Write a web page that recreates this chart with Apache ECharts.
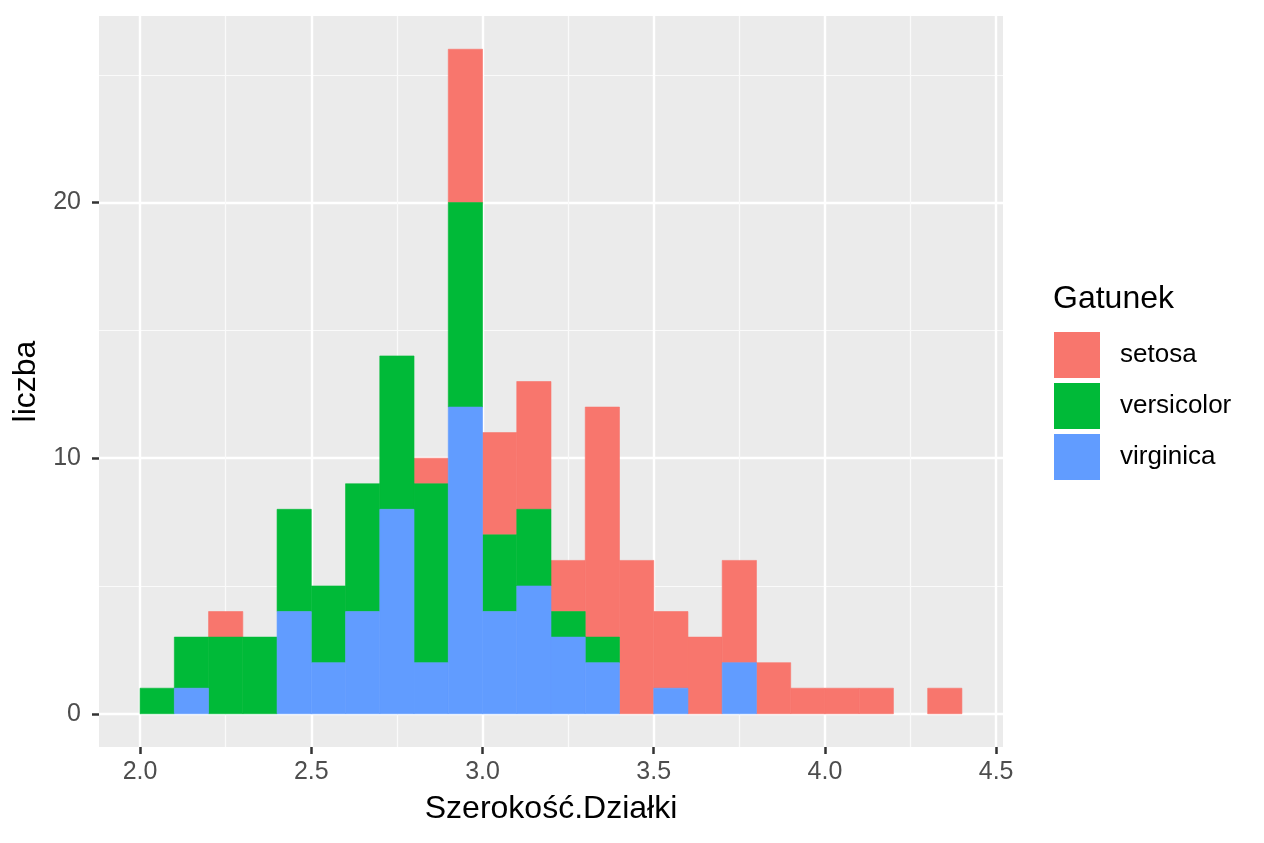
<!DOCTYPE html>
<html>
<head>
<meta charset="utf-8">
<script src="https://cdn.jsdelivr.net/npm/echarts@6/dist/echarts.min.js"></script>
<style>
  html, body { margin: 0; padding: 0; background: #fff; }
  #chart { width: 1264px; height: 843px; }
</style>
</head>
<body>
<div id="chart"></div>
<script>
// lewe krawędzie przedziałów (szerokość 0.1)
const binStarts = [2.0, 2.1, 2.2, 2.3, 2.4, 2.5, 2.6, 2.7, 2.8, 2.9, 3.0, 3.1,
  3.2, 3.3, 3.4, 3.5, 3.6, 3.7, 3.8, 3.9, 4.0, 4.1, 4.2, 4.3];
const binWidth = 0.1;

// liczebności dla każdego gatunku
const virginica  = [0, 1, 0, 0, 4, 2, 4, 8, 2, 12, 4, 5, 3, 2, 0, 1, 0, 2, 0, 0, 0, 0, 0, 0];
const versicolor = [1, 2, 3, 3, 4, 3, 5, 6, 7, 8, 3, 3, 1, 1, 0, 0, 0, 0, 0, 0, 0, 0, 0, 0];
const setosa     = [0, 0, 1, 0, 0, 0, 0, 0, 1, 6, 4, 5, 2, 9, 6, 3, 3, 4, 2, 1, 1, 1, 0, 1];

const xTicks = [2.0, 2.5, 3.0, 3.5, 4.0, 4.5];
const xMinor = [2.25, 2.75, 3.25, 3.75, 4.25];
const yTicks = [0, 10, 20];
const yMinor = [5, 15, 25];

const colors = { setosa: "#F8766D", versicolor: "#00BA38", virginica: "#619CFF" };

// stos: virginica na dole, potem versicolor, setosa na górze
const stackOrder = [
  { name: "virginica", values: virginica },
  { name: "versicolor", values: versicolor },
  { name: "setosa", values: setosa },
];

const base = binStarts.map(() => 0);
const stacked = {};
stackOrder.forEach((s) => {
  stacked[s.name] = binStarts
    .map((x, i) => {
      const item = [x, base[i], base[i] + s.values[i]];
      base[i] += s.values[i];
      return item;
    })
    .filter((d) => d[2] > d[1]);
});

const renderBin = (params, api) => {
  const x0 = api.value(0);
  const y0 = api.value(1);
  const y1 = api.value(2);
  const p1 = api.coord([x0, y1]);
  const p2 = api.coord([x0 + binWidth, y0]);
  const color = api.visual("color");
  return {
    type: "rect",
    shape: { x: p1[0], y: p1[1], width: p2[0] - p1[0], height: p2[1] - p1[1] },
    style: { fill: color, stroke: color, lineWidth: 0.6 },
  };
};

const makeSeries = (name) => ({
  name,
  type: "custom",
  renderItem: renderBin,
  itemStyle: { color: colors[name] },
  encode: { x: 0, y: [1, 2] },
  data: stacked[name],
  z: 5,
});

const font = "Liberation Sans, Arial, sans-serif";
const xMin = 1.88, xMax = 4.52, yMin = -1.3, yMax = 27.3;

const chart = echarts.init(document.getElementById("chart"));

const option = {
  animation: false,
  textStyle: { fontFamily: font },
  grid: {
    left: 99, top: 16, right: 261, bottom: 96,
    show: true, backgroundColor: "#EBEBEB", borderWidth: 0,
  },
  legend: {
    orient: "vertical",
    left: 1049, top: 327,
    data: ["setosa", "versicolor", "virginica"],
    icon: "rect",
    itemWidth: 46, itemHeight: 46, itemGap: 5,
    textStyle: { fontSize: 26, color: "#000", fontFamily: font, padding: [0, 0, 0, 15] },
    selectedMode: false,
  },
  graphic: [
    {
      type: "text", left: 1053, top: 283,
      style: { text: "Gatunek", fontSize: 32, fill: "#000", fontFamily: font },
    },
  ],
  xAxis: [
    {
      type: "value", min: xMin, max: xMax,
      name: "Szerokość.Działki", nameLocation: "middle", nameGap: 46,
      nameTextStyle: { fontSize: 32, color: "#000", fontFamily: font },
      axisLine: { show: false, onZero: false },
      axisTick: { show: true, length: 7, customValues: xTicks, lineStyle: { color: "#333", width: 2.5 } },
      axisLabel: {
        customValues: xTicks, fontSize: 25, color: "#4D4D4D", margin: 13,
        formatter: (v) => v.toFixed(1),
      },
      splitLine: { show: true, lineStyle: { color: "#FFFFFF", width: 2.4 } },
    },
    {
      type: "value", min: xMin, max: xMax, position: "top",
      axisLine: { show: false, onZero: false },
      axisTick: { show: false, customValues: xMinor },
      axisLabel: { show: false, customValues: xMinor },
      splitLine: { show: true, lineStyle: { color: "#FAFAFA", width: 1.2 } },
    },
  ],
  yAxis: [
    {
      type: "value", min: yMin, max: yMax,
      name: "liczba", nameLocation: "middle", nameGap: 49, nameRotate: 90,
      nameTextStyle: { fontSize: 32, color: "#000", fontFamily: font },
      axisLine: { show: false, onZero: false },
      axisTick: { show: true, length: 7, customValues: yTicks, lineStyle: { color: "#333", width: 2.5 } },
      axisLabel: { customValues: yTicks, fontSize: 25, color: "#4D4D4D", margin: 18 },
      splitLine: { show: true, lineStyle: { color: "#FFFFFF", width: 2.4 } },
    },
    {
      type: "value", min: yMin, max: yMax, position: "right",
      axisLine: { show: false, onZero: false },
      axisTick: { show: false, customValues: yMinor },
      axisLabel: { show: false, customValues: yMinor },
      splitLine: { show: true, lineStyle: { color: "#FAFAFA", width: 1.2 } },
    },
  ],
  series: ["setosa", "versicolor", "virginica"].map(makeSeries),
};

chart.setOption(option);
</script>
</body>
</html>
